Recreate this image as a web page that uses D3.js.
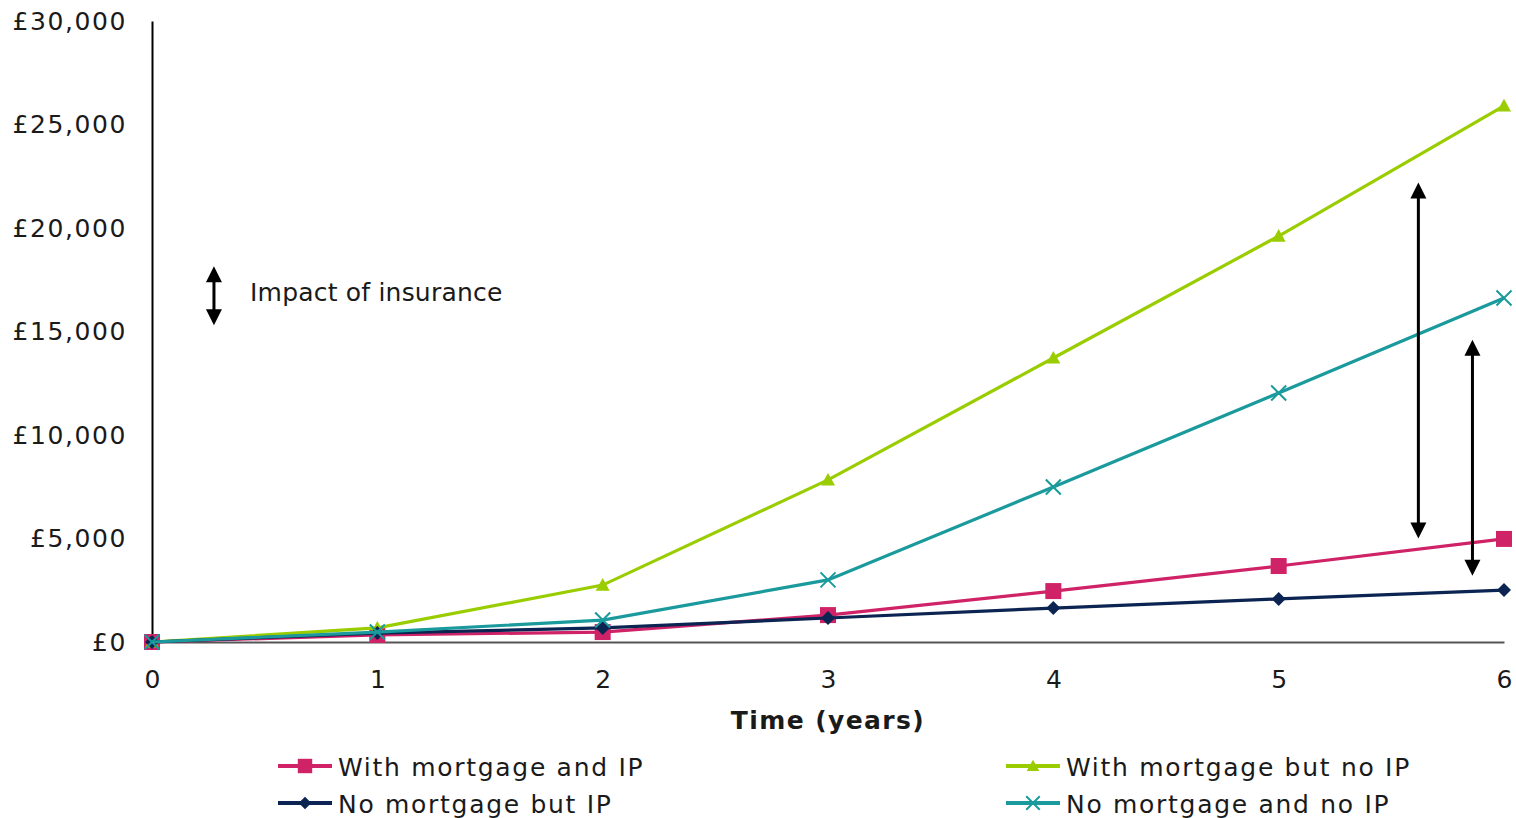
<!DOCTYPE html>
<html>
<head>
<meta charset="utf-8">
<script src="https://cdn.jsdelivr.net/npm/d3@7"></script>
<style>
  html, body { margin: 0; padding: 0; background: #fff; }
  svg { display: block; }
  text { font-family: "DejaVu Sans", Verdana, sans-serif; fill: #1a1a1a; }
</style>
</head>
<body>
<svg id="chart" width="1516" height="818"></svg>
<script>
// Years since the start
const years = [0, 1, 2, 3, 4, 5, 6];

// Cumulative cost (£) for each household scenario
const withMortgageAndIP    = [0, 340, 480, 1300, 2460, 3670, 4980];
const noMortgageButIP      = [0, 430, 680, 1160, 1640, 2080, 2510];
const withMortgageButNoIP  = [0, 680, 2750, 7830, 13720, 19610, 25900];
const noMortgageAndNoIP    = [0, 480, 1060, 3000, 7490, 12030, 16620];

const seriesNames = ["With mortgage and IP", "No mortgage but IP", "With mortgage but no IP", "No mortgage and no IP"];

// y-axis ticks
const yTicks = [0, 5000, 10000, 15000, 20000, 25000, 30000];

// "Impact of insurance" arrows, in data units (year, £ top, £ bottom)
const impactArrows = [
  { year: 5.62, top: 22200, bottom: 5000 },
  { year: 5.86, top: 14600, bottom: 3200 }
];
const keyArrow = { year: 0.275, top: 18150, bottom: 15300 };
const keyLabel = "Impact of insurance";

const series = [
  { name: seriesNames[0], values: withMortgageAndIP,   color: "#cf2267", marker: "square" },
  { name: seriesNames[2], values: withMortgageButNoIP, color: "#9acd00", marker: "triangle" },
  { name: seriesNames[1], values: noMortgageButIP,     color: "#0c2452", marker: "diamond" },
  { name: seriesNames[3], values: noMortgageAndNoIP,   color: "#1a9a9c", marker: "cross" }
];

const svg = d3.select("#chart");
const plotLeft = 152, plotRight = 1504, plotTop = 21, plotBottom = 642;
const fontSize = "25px";

const x = d3.scaleLinear().domain([0, 6]).range([plotLeft, plotRight]);
const y = d3.scaleLinear().domain([0, 30000]).range([plotBottom, plotTop]);

const fmt = v => "£" + d3.format(",")(v);

// y axis
const yAxis = svg.append("g")
  .attr("transform", `translate(${plotLeft},0)`)
  .call(d3.axisLeft(y).tickValues(yTicks).tickFormat(fmt).tickSize(0).tickPadding(25));
yAxis.select(".domain").attr("stroke", "#000").attr("stroke-width", 2);
yAxis.selectAll("text").style("font-size", fontSize).style("letter-spacing", "1.6px")
  .attr("fill", "#1a1a1a").attr("font-family", null);

// x axis
const xAxis = svg.append("g")
  .attr("transform", `translate(0,${plotBottom})`)
  .call(d3.axisBottom(x).tickValues(years).tickFormat(d3.format("d")).tickSize(0).tickPadding(28));
xAxis.select(".domain").attr("stroke", "#555").attr("stroke-width", 2);
xAxis.selectAll("text").style("font-size", fontSize).attr("fill", "#1a1a1a").attr("font-family", null);

svg.append("text")
  .attr("x", (plotLeft + plotRight) / 2)
  .attr("y", 729)
  .attr("text-anchor", "middle")
  .style("font-size", fontSize)
  .style("font-weight", "bold")
  .style("letter-spacing", "1.4px")
  .text("Time (years)");

// marker shapes
function drawMarker(g, type, color, scale) {
  if (type === "square") {
    const s = 8 * scale;
    g.append("rect").attr("x", -s).attr("y", -s).attr("width", 2 * s).attr("height", 2 * s).attr("fill", color);
  } else if (type === "diamond") {
    const s = 7 * scale;
    g.append("path").attr("d", `M0,${-s}L${s},0L0,${s}L${-s},0Z`).attr("fill", color);
  } else if (type === "triangle") {
    const s = 7 * scale;
    g.append("path").attr("d", `M0,${-s}L${s},${s * 0.8}L${-s},${s * 0.8}Z`).attr("fill", color);
  } else if (type === "cross") {
    const s = 7.5 * scale;
    g.append("path").attr("d", `M${-s},${-s}L${s},${s}M${-s},${s}L${s},${-s}`)
      .attr("stroke", color).attr("stroke-width", 2).attr("fill", "none");
  }
}

const line = d3.line().x((d, i) => x(years[i])).y(d => y(d));

series.forEach(s => {
  const g = svg.append("g");
  g.append("path").datum(s.values).attr("d", line)
    .attr("fill", "none").attr("stroke", s.color).attr("stroke-width", 3.2);
  s.values.forEach((v, i) => {
    const m = g.append("g").attr("transform", `translate(${x(years[i])},${y(v)})`);
    drawMarker(m, s.marker, s.color, 1);
  });
});

// double-headed arrows
function doubleArrow(xd, yTop, yBot) {
  const g = svg.append("g");
  const px = x(xd), y1 = y(yTop), y2 = y(yBot);
  const hw = 8, hh = 16;
  g.append("line").attr("x1", px).attr("x2", px).attr("y1", y1 + hh - 2).attr("y2", y2 - hh + 2)
    .attr("stroke", "#000").attr("stroke-width", 3);
  g.append("path").attr("d", `M${px},${y1}L${px + hw},${y1 + hh}L${px - hw},${y1 + hh}Z`).attr("fill", "#000");
  g.append("path").attr("d", `M${px},${y2}L${px + hw},${y2 - hh}L${px - hw},${y2 - hh}Z`).attr("fill", "#000");
}
impactArrows.forEach(a => doubleArrow(a.year, a.top, a.bottom));
doubleArrow(keyArrow.year, keyArrow.top, keyArrow.bottom);

svg.append("text")
  .attr("x", 250).attr("y", 301)
  .style("font-size", fontSize).style("letter-spacing", "0.2px")
  .text(keyLabel);

// legend
const legendPos = [
  { name: seriesNames[0], lx: 278, ly: 766 },
  { name: seriesNames[1], lx: 278, ly: 803 },
  { name: seriesNames[2], lx: 1006, ly: 766 },
  { name: seriesNames[3], lx: 1006, ly: 803 }
];
legendPos.forEach(p => {
  const s = series.find(d => d.name === p.name);
  const g = svg.append("g");
  g.append("line").attr("x1", p.lx).attr("x2", p.lx + 54).attr("y1", p.ly).attr("y2", p.ly)
    .attr("stroke", s.color).attr("stroke-width", 4);
  const m = g.append("g").attr("transform", `translate(${p.lx + 27},${p.ly})`);
  drawMarker(m, s.marker, s.color, 0.9);
  g.append("text").attr("x", p.lx + 60).attr("y", p.ly + 10)
    .style("font-size", fontSize).style("letter-spacing", "1.7px")
    .text(p.name);
});
</script>
</body>
</html>
